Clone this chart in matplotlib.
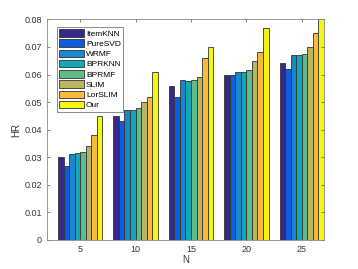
import numpy as np
import matplotlib
matplotlib.use("Agg")
import matplotlib.pyplot as plt

# =========================================================
# DATA
# =========================================================

n_values = [5, 10, 15, 20, 25]

methods = ["ItemKNN", "PureSVD", "WRMF", "BPRKNN", "BPRMF", "SLIM", "LorSLIM", "Our"]

hr_itemknn = [0.030, 0.045, 0.056, 0.060, 0.064]
hr_puresvd = [0.027, 0.043, 0.052, 0.0597, 0.062]
hr_wrmf = [0.031, 0.047, 0.058, 0.061, 0.067]
hr_bprknn = [0.0314, 0.047, 0.0577, 0.061, 0.067]
hr_bprmf = [0.032, 0.048, 0.058, 0.0615, 0.0673]
hr_slim = [0.034, 0.050, 0.059, 0.065, 0.070]
hr_lorslim = [0.038, 0.052, 0.066, 0.068, 0.075]
hr_our = [0.045, 0.061, 0.070, 0.077, 0.080]

all_hr = [hr_itemknn, hr_puresvd, hr_wrmf, hr_bprknn,
          hr_bprmf, hr_slim, hr_lorslim, hr_our]

colors = ["#352a87", "#0a5fe0", "#1a86cc", "#12a8b8",
          "#5fbb88", "#bab465", "#fbbb3a", "#f5f512"]

# =========================================================
# FIGURE
# =========================================================

plt.rcParams['font.family'] = ['Liberation Sans', 'DejaVu Sans']

fig = plt.figure(figsize=(3.58, 2.69), dpi=100)
ax = fig.add_axes([0.131, 0.108, 0.774, 0.820])

x = np.array(n_values, dtype=float)
width = 0.5

for i, (label, hr, col) in enumerate(zip(methods, all_hr, colors)):
    offset = (i - 3.5) * width
    ax.bar(x + offset, hr, width=width, color=col,
           edgecolor="#333333", linewidth=0.6, label=label)

ax.set_xlim(2, 27)
ax.set_ylim(0, 0.08)
ax.set_xticks(n_values)
ax.set_yticks(np.arange(0, 0.081, 0.01))
ax.set_yticklabels(["0", "0.01", "0.02", "0.03", "0.04",
                    "0.05", "0.06", "0.07", "0.08"])

ax.tick_params(direction="in", length=2.5, width=0.5, colors="#555555",
               labelsize=6.5, top=True, right=True, labelcolor="#333333")
for sp in ax.spines.values():
    sp.set_color("#888888")
    sp.set_linewidth(0.6)

ax.set_xlabel("N", fontsize=7, color="#333333", labelpad=1)
ax.set_ylabel("HR", fontsize=7, color="#333333", labelpad=2)

leg = ax.legend(loc="upper left", fontsize=6, frameon=True, fancybox=False,
                borderpad=0.3, labelspacing=0.2, handlelength=2.9,
                handleheight=1.0, handletextpad=0.3,
                bbox_to_anchor=(0.03, 0.975), borderaxespad=0.2)
leg.get_frame().set_edgecolor("#555555")
leg.get_frame().set_linewidth(0.6)

fig.savefig("out.png", dpi=100)
